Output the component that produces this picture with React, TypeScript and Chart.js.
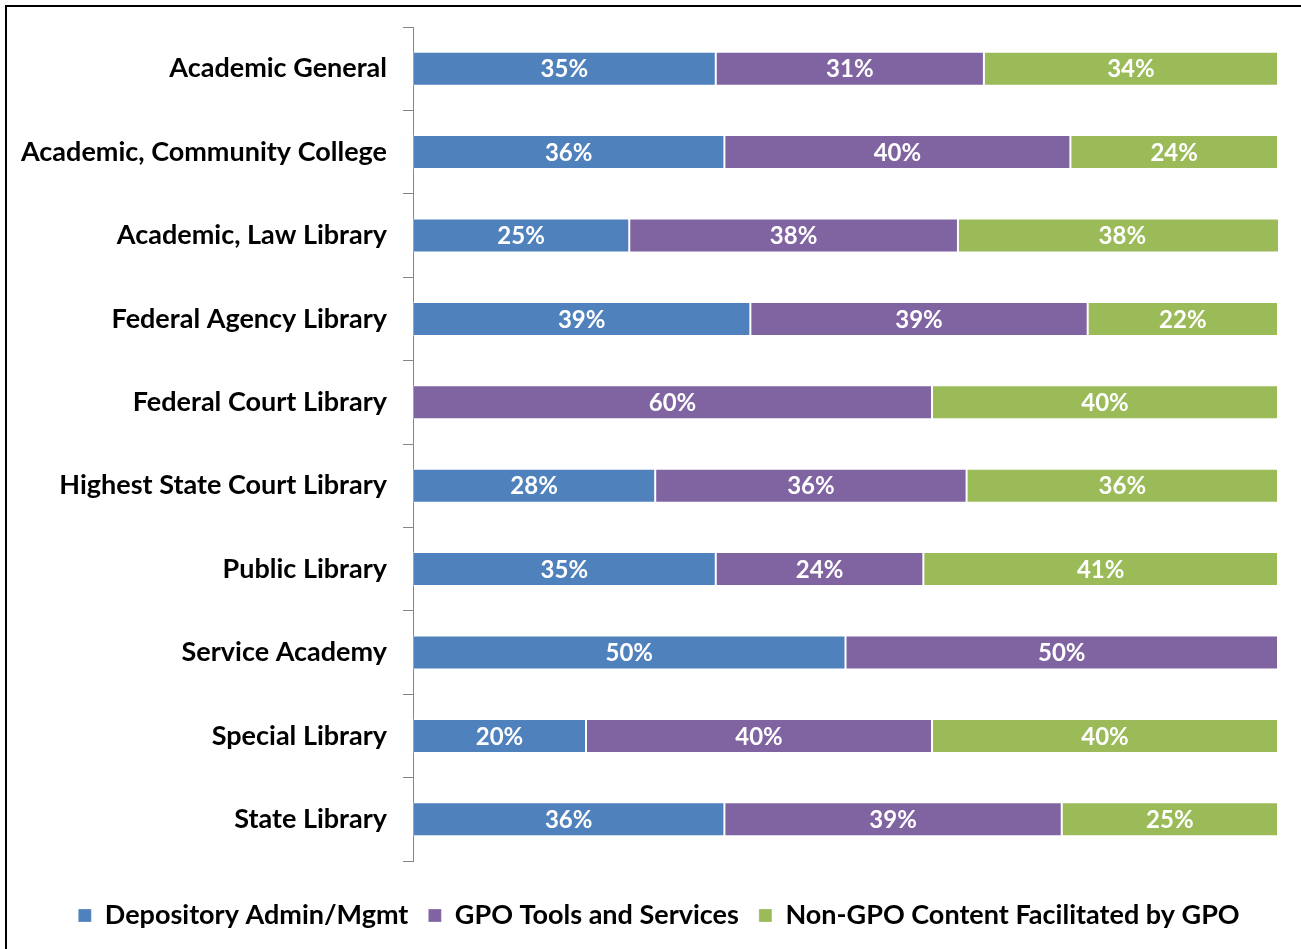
import React, { useEffect, useRef } from "react";
import { Chart, registerables } from "chart.js";

Chart.register(...registerables);

const categories = [
  "Academic General",
  "Academic, Community College",
  "Academic, Law Library",
  "Federal Agency Library",
  "Federal Court Library",
  "Highest State Court Library",
  "Public Library",
  "Service Academy",
  "Special Library",
  "State Library",
];

const depositoryAdmin = [35, 36, 25, 39, 0, 28, 35, 50, 20, 36];
const gpoTools = [31, 40, 38, 39, 60, 36, 24, 50, 40, 39];
const nonGpoContent = [34, 24, 38, 22, 40, 36, 41, 0, 40, 25];

const seriesNames = [
  "Depository Admin/Mgmt",
  "GPO Tools and Services",
  "Non-GPO Content Facilitated by GPO",
];
const seriesColors = ["#4F81BD", "#8064A2", "#9BBB59"];

const FONT = "Lato, 'Open Sans', sans-serif";

const labelPlugin = {
  id: "segmentLabels",
  afterDatasetsDraw(chart: any) {
    const ctx = chart.ctx;
    ctx.save();
    ctx.font = `bold 24px ${FONT}`;
    ctx.fillStyle = "#ffffff";
    ctx.textAlign = "center";
    ctx.textBaseline = "middle";
    chart.data.datasets.forEach((ds: any, di: number) => {
      const meta = chart.getDatasetMeta(di);
      meta.data.forEach((bar: any, i: number) => {
        const v = ds.data[i];
        if (!v) return;
        const { x, base, y } = bar.getProps(["x", "base", "y"], true);
        ctx.fillText(`${v}%`, (x + base) / 2, y + 1);
      });
    });
    ctx.restore();
  },
};

const legendShiftPlugin = {
  id: "legendShift",
  afterLayout(chart: any) {
    if (chart.legend) {
      chart.legend.left += 16;
      chart.legend.right += 16;
    }
  },
};

export default function App() {
  const ref = useRef<HTMLCanvasElement>(null);

  useEffect(() => {
    if (!ref.current) return;
    const data = [depositoryAdmin, gpoTools, nonGpoContent];
    const chart = new Chart(ref.current, {
      type: "bar",
      data: {
        labels: categories,
        datasets: seriesNames.map((name, i) => ({
          label: name,
          data: data[i],
          backgroundColor: seriesColors[i],
          borderColor: "rgba(255,255,255,0.25)",
          borderWidth: 1,
          borderSkipped: false,
          categoryPercentage: 1,
          barPercentage: 0.408,
        })),
      },
      options: {
        indexAxis: "y",
        responsive: false,
        animation: false,
        devicePixelRatio: 1,
        layout: { padding: { top: 19, right: 23, bottom: 10, left: 0 } },
        scales: {
          x: {
            stacked: true,
            min: 0,
            max: 100,
            ticks: { display: false },
            grid: { display: false },
            border: { display: false },
            afterFit: (s: any) => {
              s.height = 21;
              s.paddingLeft = 0;
              s.paddingRight = 0;
            },
          },
          y: {
            stacked: true,
            ticks: {
              color: "#000000",
              font: { family: FONT, size: 27, weight: "bold" },
              padding: 16,
            },
            grid: {
              drawOnChartArea: false,
              drawTicks: true,
              tickLength: 10,
              color: "#868686",
              offset: true,
            },
            border: { display: true, color: "#868686", width: 1 },
            afterFit: (s: any) => {
              s.width = 405;
              s.paddingTop = 0;
              s.paddingBottom = 0;
            },
          },
        },
        plugins: {
          legend: {
            position: "bottom",
            labels: {
              color: "#000000",
              font: { family: FONT, size: 27, weight: "bold" },
              boxWidth: 13,
              boxHeight: 13,
              padding: 20,
            },
          },
          tooltip: { enabled: false },
        },
      },
      plugins: [labelPlugin, legendShiftPlugin],
    });
    return () => chart.destroy();
  }, []);

  return (
    <div
      style={{
        position: "fixed",
        left: 0,
        top: 0,
        width: "100vw",
        height: "100vh",
        overflow: "hidden",
        background: "#ffffff",
      }}
    >
      <div
        style={{
          position: "absolute",
          left: 5,
          top: 5,
          width: 1400,
          height: 1000,
          border: "2px solid #000000",
        }}
      />
      <canvas
        ref={ref}
        width={1293}
        height={941}
        style={{ position: "absolute", left: 8, top: 8, width: 1293, height: 941 }}
      />
    </div>
  );
}
